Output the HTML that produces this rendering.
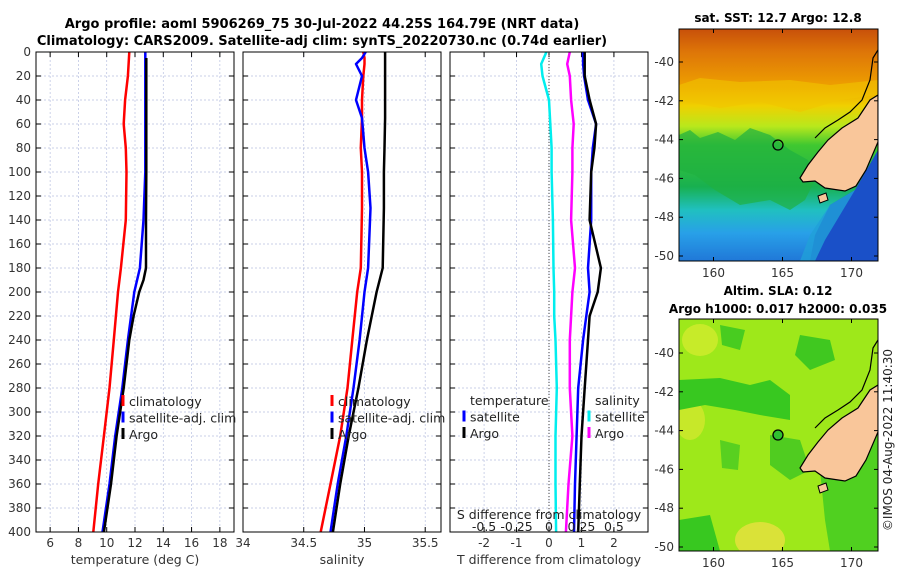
<!DOCTYPE html>
<html><head><meta charset="utf-8"><style>
body{margin:0;background:#fff}
svg{display:block;font-family:"DejaVu Sans","Liberation Sans",sans-serif}
</style></head><body>
<svg id="fig" width="900" height="580" viewBox="0 0 900 580" xmlns="http://www.w3.org/2000/svg">
<defs>
<linearGradient id="sstgrad" x1="0" y1="0" x2="0" y2="1">
<stop offset="0" stop-color="#c8500a"/><stop offset="0.1" stop-color="#de7608"/>
<stop offset="0.25" stop-color="#eea000"/><stop offset="0.33" stop-color="#f0d000"/>
<stop offset="0.42" stop-color="#b8e81c"/><stop offset="0.5" stop-color="#40c830"/>
<stop offset="0.68" stop-color="#18b050"/><stop offset="0.78" stop-color="#20c0c0"/>
<stop offset="0.88" stop-color="#28a0e8"/><stop offset="1" stop-color="#2078d8"/>
</linearGradient>
<clipPath id="m1clip"><rect x="679" y="29" width="199" height="232"/></clipPath>
<clipPath id="m2clip"><rect x="679" y="319" width="199" height="232"/></clipPath>
</defs>
<text x="322" y="28" font-size="13" font-weight="bold" text-anchor="middle">Argo profile: aoml 5906269_75 30-Jul-2022 44.25S 164.79E (NRT data)</text>
<text x="322" y="45" font-size="13" font-weight="bold" text-anchor="middle">Climatology: CARS2009. Satellite-adj clim: synTS_20220730.nc (0.74d earlier)</text>
<g id="plots"></g>

<!-- Map 1 -->
<g>
<text x="778" y="22" font-size="12" font-weight="bold" text-anchor="middle">sat. SST: 12.7 Argo: 12.8</text>
<g clip-path="url(#m1clip)">
<rect x="679" y="29" width="199" height="232" fill="url(#sstgrad)"/>
<path d="M679,135 L690,130 L700,138 L718,132 L735,140 L750,128 L770,135 L790,150 L808,160 L815,180 L805,200 L790,210 L770,200 L740,205 L715,190 L695,175 L679,170Z" fill="#20b040" opacity="0.7"/>
<path d="M679,100 L720,108 L760,102 L800,112 L840,100 L878,95 L878,80 L830,85 L790,80 L740,82 L700,78 L679,85Z" fill="#f0c400" opacity="0.6"/>
<path d="M830,205 L855,190 L878,150 L878,261 L810,261 L815,235Z" fill="#1a50c8"/>
<path d="M810,235 L830,205 L855,190 L840,215 L825,240 L815,261 L800,261Z" fill="#20a0d8" opacity="0.8"/>
<path d="M878,95 L870,100 L858,118 L842,128 L828,140 L818,152 L808,165 L800,178 L803,182 L815,181 L825,188 L845,191 L856,186 L866,170 L878,142Z" fill="#f9c69a" stroke="#000" stroke-width="1.2"/>
<path d="M878,50 L873,58 L870,80 L862,100 L850,112 L838,120 L825,128 L815,138" fill="none" stroke="#000" stroke-width="1.2"/>
<path d="M818,196 L826,193 L828,200 L820,203Z" fill="#f9c69a" stroke="#000"/>
<circle cx="778" cy="145" r="5" fill="none" stroke="#000" stroke-width="1.3"/>
</g>
<rect x="679" y="29" width="199" height="232" fill="none" stroke="#000" stroke-width="1"/>
</g>

<!-- Map 2 -->
<g>
<text x="778" y="295" font-size="12" font-weight="bold" text-anchor="middle">Altim. SLA: 0.12</text>
<text x="778" y="313" font-size="12" font-weight="bold" text-anchor="middle">Argo h1000: 0.017 h2000: 0.035</text>
<g clip-path="url(#m2clip)">
<rect x="679" y="319" width="199" height="232" fill="#9ee81a"/>
<ellipse cx="700" cy="340" rx="18" ry="16" fill="#d8ec30" opacity="0.7"/>
<ellipse cx="760" cy="540" rx="25" ry="18" fill="#e8e040" opacity="0.8"/>
<ellipse cx="690" cy="420" rx="15" ry="20" fill="#d8e830" opacity="0.7"/>
<path d="M679,380 L720,378 L750,385 L770,380 L790,395 L790,420 L760,415 L735,410 L705,405 L679,410Z" fill="#38c820"/>
<path d="M800,335 L830,340 L835,360 L810,370 L795,355Z" fill="#40c820"/>
<path d="M720,325 L745,330 L740,350 L722,345Z" fill="#48cc20"/>
<path d="M770,435 L800,440 L810,470 L790,480 L770,465Z" fill="#50cc20"/>
<path d="M720,440 L740,445 L738,470 L722,468Z" fill="#58d020"/>
<path d="M679,520 L710,515 L720,551 L679,551Z" fill="#38c820"/>
<path d="M820,470 L850,460 L878,430 L878,551 L830,551 L825,520Z" fill="#50d020"/>
<path d="M878,100 L878,380 L858,400 L842,418 L828,430 L818,442 L808,455 L800,468 L803,472 L815,471 L825,478 L845,481 L856,476 L866,460 L878,432Z" fill="none"/>
<path d="M878,385 L870,390 L858,408 L842,418 L828,430 L818,442 L808,455 L800,468 L803,472 L815,471 L825,478 L845,481 L856,476 L866,460 L878,432Z" fill="#f9c69a" stroke="#000" stroke-width="1.2"/>
<path d="M878,340 L873,348 L870,370 L862,390 L850,402 L838,410 L825,418 L815,428" fill="none" stroke="#000" stroke-width="1.2"/>
<path d="M818,486 L826,483 L828,490 L820,493Z" fill="#f9c69a" stroke="#000"/>
<circle cx="778" cy="435" r="5" fill="#30c030" stroke="#000" stroke-width="1.3"/>
</g>
<rect x="679" y="319" width="199" height="232" fill="none" stroke="#000" stroke-width="1"/>
</g>
<text transform="translate(892,440) rotate(-90)" font-size="12" fill="#222" text-anchor="middle">©IMOS 04-Aug-2022 11:40:30</text>
</svg>
<script>
// ---- data ----
const depthsClim = [0,20,40,60,80,100,140,180,200,240,280,320,360,400];
const tempClim   = [11.6,11.5,11.3,11.2,11.35,11.4,11.35,11.0,10.8,10.5,10.2,9.8,9.4,9.05];
const tempSat    = [12.73,12.73,12.73,12.73,12.73,12.73,12.6,12.35,11.95,11.5,11.1,10.6,10.2,9.7];
const depthsArgo = [5,20,40,60,80,100,140,180,190,200,220,240,280,320,360,400];
const tempArgo   = [12.8,12.8,12.8,12.8,12.8,12.8,12.78,12.78,12.6,12.3,11.9,11.6,11.2,10.7,10.3,9.8];
const salDepths  = [0,5,10,20,40,55,80,100,130,180,200,240,280,320,360,400];
const salClim    = [34.99,35.0,35.0,34.99,34.98,34.98,34.97,34.98,34.98,34.97,34.94,34.9,34.86,34.8,34.72,34.64];
const salSat     = [35.01,34.98,34.93,34.98,34.93,34.98,35.0,35.03,35.05,35.03,35.0,34.96,34.91,34.85,34.78,34.72];
const salArgo    = [35.17,35.17,35.17,35.17,35.17,35.17,35.165,35.16,35.16,35.15,35.1,35.02,34.95,34.87,34.8,34.74];
const diffDepths = [0,10,20,40,60,80,100,140,180,200,220,240,280,320,360,400];
const dTsat  = [1.05,1.05,1.08,1.2,1.45,1.35,1.3,1.3,1.2,1.25,1.15,1.05,0.9,0.85,0.8,0.77];
const dTargo = [1.1,1.1,1.1,1.25,1.45,1.4,1.3,1.25,1.6,1.5,1.25,1.2,1.1,1.0,0.95,0.9];
const dSsat  = [-0.02,-0.06,-0.05,0.0,0.01,0.02,0.02,0.03,0.035,0.04,0.04,0.05,0.06,0.05,0.05,0.055];
const dSargo = [0.16,0.14,0.16,0.17,0.19,0.18,0.18,0.17,0.2,0.18,0.17,0.16,0.16,0.18,0.15,0.13];
const yTicks = [0,20,40,60,80,100,120,140,160,180,200,220,240,260,280,300,320,340,360,380,400];
const tTicks = [6,8,10,12,14,16,18];
const sTicks = [34,34.5,35,35.5];
const sTickLabels = ["34","34.5","35","35.5"];
const dTTicks = [-2,-1,0,1,2];
const dSTicks = [-0.5,-0.25,0,0.25,0.5];
const dSTickLabels = ["-0.5","-0.25","0","0.25","0.5"];
const map1Lat = [-40,-42,-44,-46,-48,-50];
const mapLon = [160,165,170];

const NS='http://www.w3.org/2000/svg';
const root=document.getElementById('plots');
const fig=document.getElementById('fig');
function mk(tag,attrs,parent){const e=document.createElementNS(NS,tag);for(const k in attrs)e.setAttribute(k,attrs[k]);(parent||root).appendChild(e);return e;}
const TOP=52,BOT=532;
const yScale=d=>TOP+(d/400)*(BOT-TOP);
function xs(x0,x1,v0,v1){return v=>x0+(v-v0)/(v1-v0)*(x1-x0);}

function panel(name,x0,x1,xsc,ticks,labels,xlabel,showY){
  const g=mk('g',{});
  
  
  ticks.forEach((t,i)=>{const x=xsc(t);
    mk('line',{x1:x,x2:x,y1:TOP,y2:BOT,stroke:'#b8c0e0','stroke-width':0.7,'stroke-dasharray':'2,2'},g);
    mk('line',{x1:x,x2:x,y1:BOT,y2:BOT-5,stroke:'#000'},g);
    mk('line',{x1:x,x2:x,y1:TOP,y2:TOP+5,stroke:'#000'},g);
    if(labels){const t2=mk('text',{x:x,y:BOT+15,'font-size':12,fill:'#333','text-anchor':'middle'},g);t2.textContent=labels[i];
      
      }
  });
  yTicks.forEach(d=>{const y=yScale(d);
    mk('line',{x1:x0,x2:x1,y1:y,y2:y,stroke:'#b8c0e0','stroke-width':0.7,'stroke-dasharray':'2,2'},g);
    mk('line',{x1:x0,x2:x0+5,y1:y,y2:y,stroke:'#000'},g);
    mk('line',{x1:x1-5,x2:x1,y1:y,y2:y,stroke:'#000'},g);
    if(showY){const t=mk('text',{x:x0-5,y:y+4,'font-size':12,fill:'#333','text-anchor':'end'},g);t.textContent=d;
      
      }
  });
  const xl=mk('text',{x:(x0+x1)/2,y:BOT+32,'font-size':12.5,fill:'#333','text-anchor':'middle'},g);
  xl.textContent=xlabel;
  
  
  return g;
}
function line(g,name,xsc,vals,depths,color,w){
  const pts=vals.map((v,i)=>xsc(v).toFixed(1)+','+yScale(depths[i]).toFixed(1)).join(' ');
  const p=mk('polyline',{points:pts,fill:'none',stroke:color,'stroke-width':w||2.5,'stroke-linejoin':'round'},g);
  
  
}
function frame(g,x0,x1){mk('rect',{x:x0,y:TOP,width:x1-x0,height:BOT-TOP,fill:'none',stroke:'#000','stroke-width':1},g);}
function legend(g,x,y,items){
  items.forEach((it,i)=>{const yy=y+i*16.5;
    if(it.c) mk('line',{x1:x,x2:x,y1:yy-11,y2:yy,stroke:it.c,'stroke-width':3},g);
    const t=mk('text',{x:x+(it.c?6:0),y:yy,'font-size':12.5,fill:'#222'},g);t.textContent=it.t;
    
    
  });
}
// Panel 1
const tx=xs(36,234,5,19);
let g1=panel('temperature-panel',36,234,tx,tTicks,tTicks.map(String),'temperature (deg C)',true);
line(g1,'temp-climatology-line',tx,tempClim,depthsClim,'#f00');
line(g1,'temp-satellite-line',tx,tempSat,depthsClim,'#00f');
line(g1,'temp-argo-line',tx,tempArgo,depthsArgo,'#000');
frame(g1,36,234);
legend(g1,123,406,[{c:'#f00',t:'climatology'},{c:'#00f',t:'satellite-adj. clim'},{c:'#000',t:'Argo'}]);
// Panel 2
const sx=xs(243,441,34,35.63);
let g2=panel('salinity-panel',243,441,sx,sTicks,sTickLabels,'salinity',false);
line(g2,'sal-climatology-line',sx,salClim,salDepths,'#f00');
line(g2,'sal-satellite-line',sx,salSat,salDepths,'#00f');
line(g2,'sal-argo-line',sx,salArgo,salDepths,'#000');
frame(g2,243,441);
legend(g2,332,406,[{c:'#f00',t:'climatology'},{c:'#00f',t:'satellite-adj. clim'},{c:'#000',t:'Argo'}]);
// Panel 3
const dx=xs(450,648,-3.05,3.05);
const dsx=v=>dx(v*4);
let g3=panel('difference-panel',450,648,dx,dTTicks,dTTicks.map(String),'T difference from climatology',false);
mk('line',{x1:dx(0),x2:dx(0),y1:TOP,y2:BOT,stroke:'#444','stroke-width':1,'stroke-dasharray':'1,2'},g3);
line(g3,'sdiff-satellite-line',dsx,dSsat,diffDepths,'#0ee',2.5);
line(g3,'sdiff-argo-line',dsx,dSargo,diffDepths,'#f0f',2.5);
line(g3,'tdiff-satellite-line',dx,dTsat,diffDepths,'#00f',2.5);
line(g3,'tdiff-argo-line',dx,dTargo,diffDepths,'#000',2.5);
frame(g3,450,648);
legend(g3,470,405,[{t:'temperature'}]);
legend(g3,464,421.5,[{c:'#00f',t:'satellite'},{c:'#000',t:'Argo'}]);
legend(g3,595,405,[{t:'salinity'}]);
legend(g3,589,421.5,[{c:'#0ee',t:'satellite'},{c:'#f0f',t:'Argo'}]);
const st=mk('text',{x:549,y:519,'font-size':12.5,fill:'#222','text-anchor':'middle'},g3);
st.textContent='S difference from climatology';


dSTicks.forEach((v,i)=>{const t=mk('text',{x:dsx(v),y:535-1+0,'font-size':12.5,fill:'#222','text-anchor':'middle'},g3);
  t.setAttribute('y',531);t.textContent=dSTickLabels[i];
  
  });
// Map axes
function mapAxes(top,lat0y){
  const g=mk('g',{},fig);
  
  
  map1Lat.forEach(l=>{const y=lat0y+(-40-l)*19.4;
    if(y<top||y>top+232)return;
    mk('line',{x1:679,x2:683,y1:y,y2:y,stroke:'#000'},g);mk('line',{x1:874,x2:878,y1:y,y2:y,stroke:'#000'},g);
    const t=mk('text',{x:674,y:y+4,'font-size':12,fill:'#333','text-anchor':'end'},g);t.textContent=l;
    
    });
  mapLon.forEach(l=>{const x=679+(l-157.5)*13.8;
    mk('line',{x1:x,x2:x,y1:top+232,y2:top+228,stroke:'#000'},g);mk('line',{x1:x,x2:x,y1:top,y2:top+4,stroke:'#000'},g);
    const t=mk('text',{x:x,y:top+248,'font-size':12,fill:'#333','text-anchor':'middle'},g);t.textContent=l;
    
    });
}
mapAxes(29,62);
mapAxes(319,353);
</script>
</body></html>
